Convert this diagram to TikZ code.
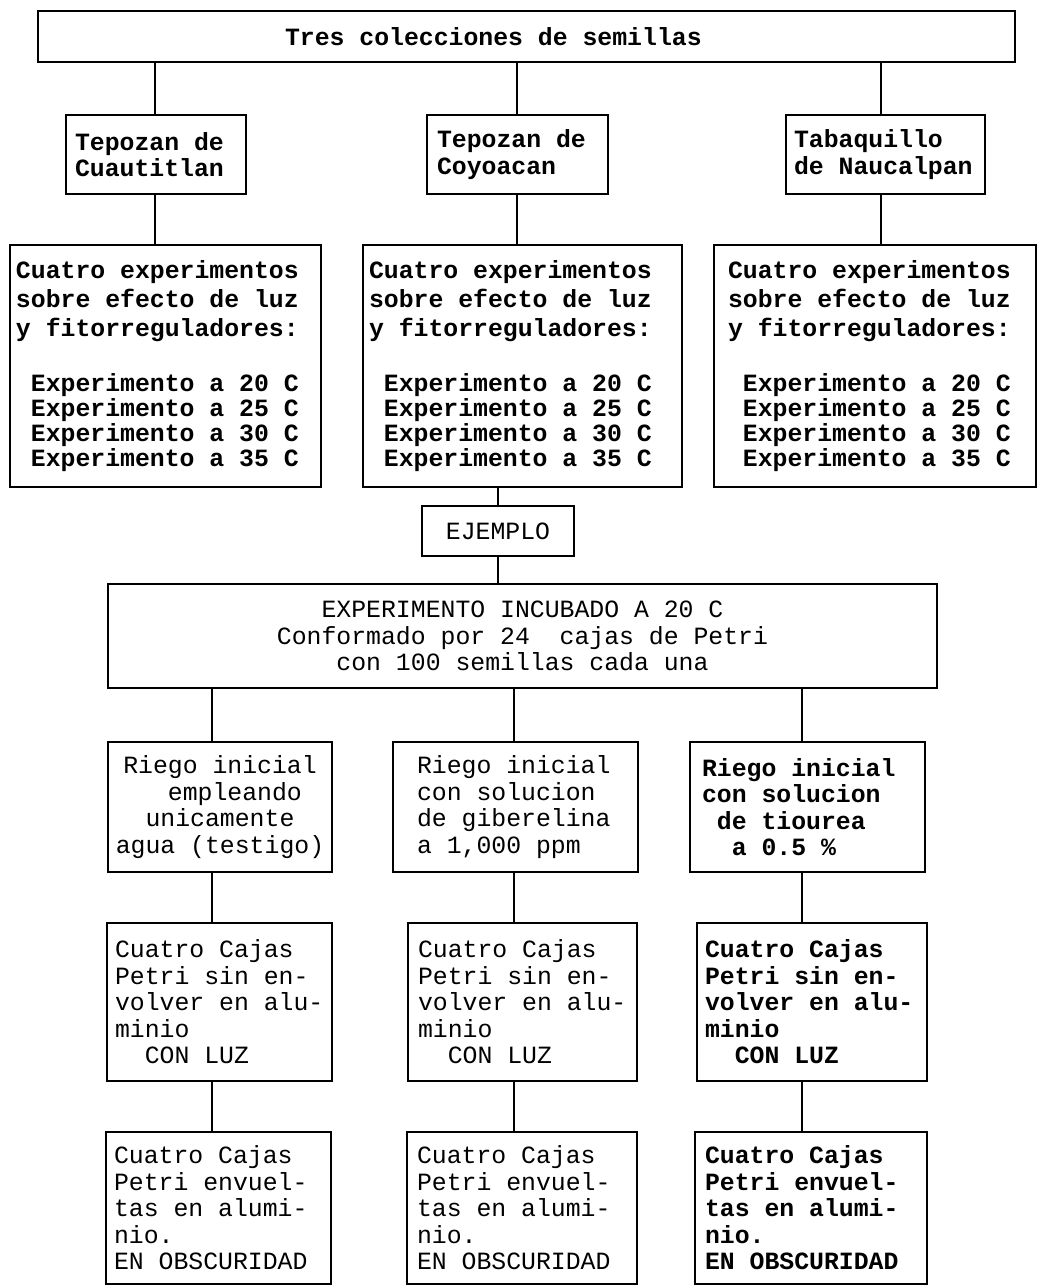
\documentclass[tikz,border=0pt]{standalone}
\usepackage{fontspec}
\setmainfont{Liberation Mono}
\newcommand\monosp{\spaceskip=\fontdimen2\font\relax\xspaceskip=\fontdimen2\font\relax}
\begin{document}
\begin{tikzpicture}[x=1pt,y=-1pt,
  box/.style={draw, line width=1.7pt, rectangle, inner ysep=0pt,
    font=\fontsize{24.8}{26.5}\selectfont},
  lbox/.style={box, align=left},
  cbox/.style={box, align=center},
  bf/.style={font=\fontsize{24.8}{26.5}\selectfont\bfseries},
  bfx/.style={font=\fontsize{24.8}{25}\selectfont\bfseries},
  conn/.style={line width=1.7pt}]
\useasboundingbox (0,0) rectangle (1039,1288);

% top level
\node[lbox, bf, minimum height=51pt, text width=483pt, inner xsep=247pt] (top) at (526.5,36.5) {\monosp Tres colecciones de semillas};

\node[lbox, bf, minimum height=79pt, text width=162pt, inner xsep=9pt] (tep1) at (156,154.5) {\monosp Tepozan de\\Cuautitlan};
\node[lbox, bf, minimum height=79pt, text width=161pt, inner xsep=10pt] (tep2) at (517.5,154.5) {\monosp Tepozan de\\Coyoacan};
\node[lbox, bf, minimum height=79pt, text width=183pt, inner xsep=8pt] (tep3) at (885.5,154.5) {\monosp Tabaquillo\\de Naucalpan};

\node[lbox, bfx, minimum height=242pt, text width=299pt, inner xsep=6pt] (cua1) at (165.5,366) {\monosp Cuatro experimentos\\[4pt]sobre efecto de luz\\[4pt]y fitorreguladores:\\[30pt]\hspace*{0.6em}Experimento a 20 C\\\hspace*{0.6em}Experimento a 25 C\\\hspace*{0.6em}Experimento a 30 C\\\hspace*{0.6em}Experimento a 35 C};
\node[lbox, bfx, minimum height=242pt, text width=307pt, inner xsep=6pt] (cua2) at (522.5,366) {\monosp Cuatro experimentos\\[4pt]sobre efecto de luz\\[4pt]y fitorreguladores:\\[30pt]\hspace*{0.6em}Experimento a 20 C\\\hspace*{0.6em}Experimento a 25 C\\\hspace*{0.6em}Experimento a 30 C\\\hspace*{0.6em}Experimento a 35 C};
\node[lbox, bfx, minimum height=242pt, text width=294pt, inner xsep=14pt] (cua3) at (875,366) {\monosp Cuatro experimentos\\[4pt]sobre efecto de luz\\[4pt]y fitorreguladores:\\[30pt]\hspace*{0.6em}Experimento a 20 C\\\hspace*{0.6em}Experimento a 25 C\\\hspace*{0.6em}Experimento a 30 C\\\hspace*{0.6em}Experimento a 35 C};

% example
\node[cbox, minimum width=152pt, minimum height=50pt] (ej) at (498,531) {\monosp EJEMPLO};
\node[cbox, minimum width=829pt, minimum height=104pt] (big) at (522.5,636) {\monosp EXPERIMENTO INCUBADO A 20 C\\Conformado por 24\ \ cajas de Petri\\con 100 semillas cada una};

% riego
\node[cbox, minimum height=130pt, text width=224pt, inner xsep=0pt] (rL) at (220,807) {\monosp Riego inicial\\\hspace*{1.2em}empleando\\unicamente\\agua (testigo)};
\node[lbox, minimum height=130pt, text width=197pt, inner xsep=24pt] (rM) at (515.5,807) {\monosp Riego inicial\\con solucion\\de giberelina\\a 1,000 ppm};
\node[lbox, bf, minimum height=130pt, text width=211pt, inner xsep=12pt] (rR) at (807.5,807) {\monosp Riego inicial\\con solucion\\\hspace*{0.6em}de tiourea\\\hspace*{1.2em}a 0.5 \%};

% cajas con luz
\node[lbox, minimum height=158pt, text width=209pt, inner xsep=8pt] (cL) at (219.5,1002) {\monosp Cuatro Cajas\\Petri sin en-\\volver en alu-\\minio\\\hspace*{1.2em}CON LUZ};
\node[lbox, minimum height=158pt, text width=209pt, inner xsep=10pt] (cM) at (522.5,1002) {\monosp Cuatro Cajas\\Petri sin en-\\volver en alu-\\minio\\\hspace*{1.2em}CON LUZ};
\node[lbox, bf, minimum height=158pt, text width=214pt, inner xsep=8pt] (cR) at (812,1002) {\monosp Cuatro Cajas\\Petri sin en-\\volver en alu-\\minio\\\hspace*{1.2em}CON LUZ};

% cajas en obscuridad
\node[lbox, minimum height=152pt, text width=209pt, inner xsep=8pt] (dL) at (218.5,1208) {\monosp Cuatro Cajas\\Petri envuel-\\tas en alumi-\\nio.\\EN OBSCURIDAD};
\node[lbox, minimum height=152pt, text width=210pt, inner xsep=10pt] (dM) at (522,1208) {\monosp Cuatro Cajas\\Petri envuel-\\tas en alumi-\\nio.\\EN OBSCURIDAD};
\node[lbox, bf, minimum height=152pt, text width=212pt, inner xsep=10pt] (dR) at (811,1208) {\monosp Cuatro Cajas\\Petri envuel-\\tas en alumi-\\nio.\\EN OBSCURIDAD};

% connector columns
\coordinate (xA) at (155,0);
\coordinate (xB) at (517,0);
\coordinate (xC) at (881,0);
\coordinate (xE) at (498,0);
\coordinate (xL) at (212,0);
\coordinate (xM) at (514,0);
\coordinate (xR) at (802,0);

\draw[conn] (xA |- top.south) -- (xA |- tep1.north);
\draw[conn] (xB |- top.south) -- (xB |- tep2.north);
\draw[conn] (xC |- top.south) -- (xC |- tep3.north);
\draw[conn] (xA |- tep1.south) -- (xA |- cua1.north);
\draw[conn] (xB |- tep2.south) -- (xB |- cua2.north);
\draw[conn] (xC |- tep3.south) -- (xC |- cua3.north);
\draw[conn] (xE |- cua2.south) -- (ej.north);
\draw[conn] (ej.south) -- (xE |- big.north);
\draw[conn] (xL |- big.south) -- (xL |- rL.north);
\draw[conn] (xM |- big.south) -- (xM |- rM.north);
\draw[conn] (xR |- big.south) -- (xR |- rR.north);
\draw[conn] (xL |- rL.south) -- (xL |- cL.north);
\draw[conn] (xM |- rM.south) -- (xM |- cM.north);
\draw[conn] (xR |- rR.south) -- (xR |- cR.north);
\draw[conn] (xL |- cL.south) -- (xL |- dL.north);
\draw[conn] (xM |- cM.south) -- (xM |- dM.north);
\draw[conn] (xR |- cR.south) -- (xR |- dR.north);
\end{tikzpicture}
\end{document}
